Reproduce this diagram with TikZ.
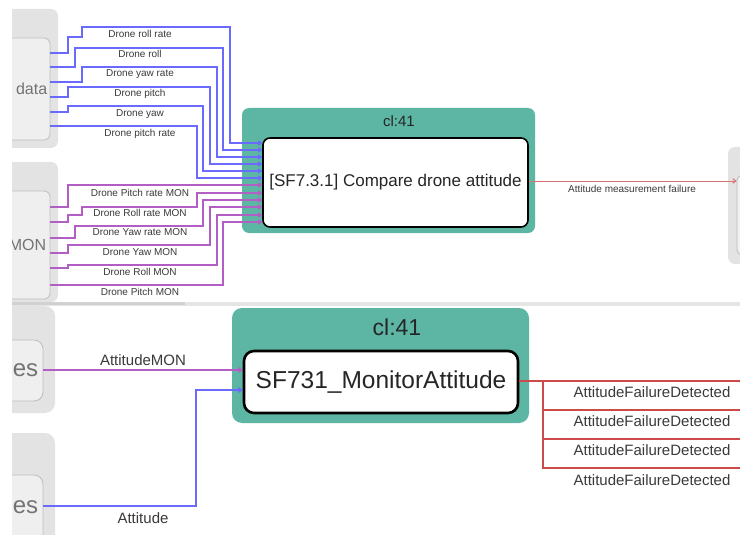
\documentclass[tikz,border=0pt]{standalone}
\usepackage{fontspec}
\setmainfont{Liberation Sans}
\usetikzlibrary{positioning,arrows.meta}
\definecolor{clteal}{HTML}{5CB6A3}
\definecolor{grpout}{HTML}{E3E3E3}
\definecolor{grpfill}{HTML}{EFEFEF}
\definecolor{grpedge}{HTML}{BDBDBD}
\definecolor{sigblue}{HTML}{6A6AFF}
\definecolor{sigpurple}{HTML}{B25EC4}
\definecolor{sigred}{HTML}{D87476}
\definecolor{sigdkred}{HTML}{CC4A4A}
\definecolor{lbltxt}{HTML}{3A3A3A}
\tikzset{
  grp/.style={fill=grpout,rounded corners=7pt,inner sep=0pt},
  grpin/.style={fill=grpfill,draw=grpedge,line width=0.8pt,rounded corners=6pt,inner sep=0pt},
  grptxt/.style={text=black!55,inner sep=0pt},
  clbox/.style={fill=clteal,rounded corners=7pt,inner sep=0pt},
  fnbox/.style={fill=white,draw=black,rounded corners=7pt,inner sep=0pt,text=black!85},
  sig/.style={line width=1.1pt,-{Straight Barb[length=3pt,width=4.5pt]}},
  siglbl/.style={text=lbltxt,inner sep=0pt},
  fsmall/.style={font=\fontsize{10}{12}\selectfont},
  fbig/.style={font=\fontsize{15}{18}\selectfont}
}
\begin{document}
\begin{tikzpicture}[x=1pt,y=-1pt]
\useasboundingbox (0,0) rectangle (740,535); \fill[white] (0,0) rectangle (740,535);
\begin{scope}
\clip (12,0) rectangle (740,302);
\node[grp,minimum width=98pt,minimum height=139pt] (dataGrp) at (9,78.5) {};
\node[grpin,minimum width=90pt,minimum height=102pt] (dataIn) at (5,89) {};
\node[grptxt,font=\fontsize{16}{18}\selectfont,left=3pt of dataIn.east] (dataTxt) {data};
\node[grp,minimum width=98pt,minimum height=140pt] (monGrp) at (9,232) {};
\node[grpin,minimum width=90pt,minimum height=108pt] (monIn) at (5,245) {};
\node[grptxt,font=\fontsize{16}{18}\selectfont,left=4pt of monIn.east] (monTxt) {MON};
\node[grp,minimum width=72pt,minimum height=117pt] (rgtGrp) at (764,205.5) {};
\node[grpin,minimum width=73pt,minimum height=80pt] (rgtIn) at (773.5,215) {};
\node[clbox,minimum width=293pt,minimum height=125pt] (cmpCl) at (388.5,170.5) {};
\node[text=black!85,font=\fontsize{15}{18}\selectfont,inner sep=0pt] (cmpClTxt) at (399,121) {cl:41};
\node[fnbox,line width=1.6pt,minimum width=265pt,minimum height=89pt,font=\fontsize{17}{20}\selectfont] (cmpFn) at (395.5,182.5) {[SF7.3.1] Compare drone attitude};
\foreach \ys/\xa/\ym/\xb/\yt/\xv/\ye/\yl/\txt in {53/68/37/82/27/230/143/34/Drone roll rate,67/75/48/75/48/223/150/54/Drone roll,82/82/67/82/67/217/157/74/Drone yaw rate,97/68/87/68/87/210/164/94/Drone pitch,112/68/106/68/106/203/171/114/Drone yaw,126/68/126/68/126/197/178/134/Drone pitch rate}{
  \draw[sig,sigblue] (dataIn.east |- 0,\ys) -| (\xa,\ym) -| (\xb,\yt) -| (\xv,\ye) -- (cmpFn.west |- 0,\ye);
  \node[siglbl,fsmall] (lbl\ys) at (140,\yl) {\txt};
}
\foreach \ys/\xa/\ym/\xb/\yt/\xv/\ye/\yl/\txt in {207/68/185/68/185/230/185/193/Drone Pitch rate MON,222/68/215/82/207/197/193/213/Drone Roll rate MON,238/75/226/75/226/203/200/232/Drone Yaw rate MON,253/68/245/68/245/210/207/252/Drone Yaw MON,268/68/265/68/265/217/215/272/Drone Roll MON,285/68/285/68/285/223/222/292/Drone Pitch MON}{
  \draw[sig,sigpurple] (monIn.east |- 0,\ys) -| (\xa,\ym) -| (\xb,\yt) -| (\xv,\ye) -- (cmpFn.west |- 0,\ye);
  \node[siglbl,fsmall] (lbl\ys) at (140,\yl) {\txt};
}
\draw[sig,sigred,line width=1pt] (cmpFn.east |- 0,181) -- (rgtIn.west |- 0,181);
\node[siglbl,fsmall] (failLbl) at (632,189) {Attitude measurement failure};
\end{scope}
\fill[black!10] (12,302) rectangle (740,306); \fill[black!18] (12,302) rectangle (185,305);
\begin{scope}
\clip (12,306) rectangle (740,535);
\node[grp,rounded corners=10pt,minimum width=95pt,minimum height=107pt] (attMonGrp) at (7.5,359.5) {};
\node[grpin,rounded corners=9pt,minimum width=83pt,minimum height=61pt] (attMonIn) at (1.5,370.5) {};
\node[grptxt,font=\fontsize{24}{28}\selectfont,left=5pt of attMonIn.east] (attMonTxt) {es};
\node[grp,rounded corners=10pt,minimum width=95pt,minimum height=127pt] (attGrp) at (7.5,496.5) {};
\node[grpin,rounded corners=9pt,minimum width=83pt,minimum height=85pt] (attIn) at (1.5,517.5) {};
\coordinate (attTxtPt) at (attIn.east |- 0,507);
\node[grptxt,font=\fontsize{24}{28}\selectfont,left=5pt of attTxtPt] (attTxt) {es};
\node[clbox,rounded corners=10pt,minimum width=297pt,minimum height=115pt] (monCl) at (380.5,365.5) {};
\node[text=black!85,font=\fontsize{23}{27}\selectfont,inner sep=0pt] (monClTxt) at (397,327) {cl:41};
\node[fnbox,rounded corners=10pt,line width=2.6pt,minimum width=274pt,minimum height=62pt,font=\fontsize{24.5}{28}\selectfont] (monFn) at (381,382) {SF731\_MonitorAttitude};
\draw[sig,sigpurple,line width=1.4pt] (attMonIn.east |- 0,370) -- (monFn.west |- 0,370);
\node[siglbl,fbig] (attMonLbl) at (143,360) {AttitudeMON};
\draw[sig,sigblue,line width=1.4pt] (attIn.east |- 0,506) -| (196,390) -- (monFn.west |- 0,390);
\node[siglbl,fbig] (attLbl) at (143,518) {Attitude};
\coordinate (splitPt) at (543,381);
\draw[sigdkred,line width=1.3pt] (monFn.east |- splitPt) -- (740,381);
\foreach \yb/\yl in {381/392,410/421,439/450,468/480}{
  \draw[sigdkred,line width=1.3pt] (splitPt) |- (740,\yb);
  \node[siglbl,fbig] (afd\yb) at (652,\yl) {AttitudeFailureDetected};
}
\end{scope}
\end{tikzpicture}
\end{document}
